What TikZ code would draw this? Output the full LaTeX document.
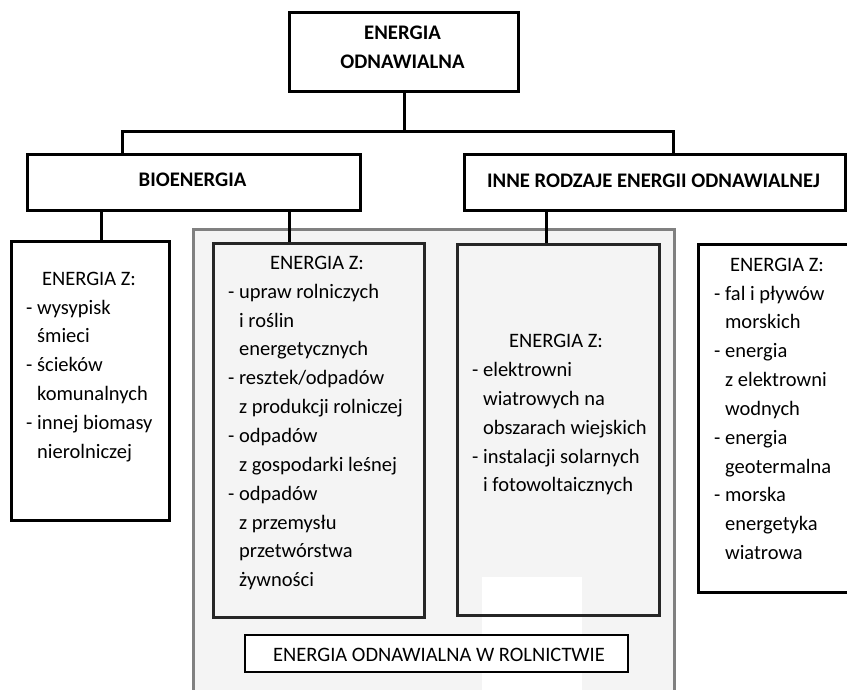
\documentclass[tikz,border=0pt]{standalone}
\usepackage{fontspec}
\setmainfont{Carlito}
\definecolor{frame}{HTML}{808080}
\definecolor{bg}{HTML}{F4F4F4}
\newcommand\mylist[1]{\parbox[t]{220pt}{\fontsize{20.5}{28.85}\selectfont #1}}
\newcommand\hind{\hphantom{- }}
\tikzset{
  bx/.style={draw=black, line width=3pt, fill=white, inner sep=0pt, anchor=north west},
  ibx/.style={draw=black!85, line width=2.6pt, inner sep=0pt, anchor=north west},
  lblbox/.style={draw=black, line width=1.8pt, fill=white, inner sep=0pt, anchor=north west},
  agribox/.style={draw=frame, fill=bg, line width=3pt, inner sep=0pt, anchor=north west},
  conn/.style={line width=3pt, draw=black},
  ttl/.style={inner sep=0pt, anchor=base, font=\fontsize{20.5}{29}\selectfont},
  hdr/.style={inner sep=0pt, anchor=base, font=\fontsize{20.7}{29}\selectfont\bfseries},
  lst/.style={inner sep=0pt, anchor=base west},
}
\begin{document}
\begin{tikzpicture}[x=1pt,y=-1pt]
\useasboundingbox (0,0) rectangle (847,689);
\clip (0,0) rectangle (847,689);
\fill[white] (0,0) rectangle (847,689);
% agriculture frame
\node[agribox, minimum width=481pt, minimum height=480pt] (agri) at (192,228) {};
\fill[white] (482,577) rectangle (582,700);
% boxes
\node[bx, minimum width=229pt, minimum height=79pt] (top) at (288,11) {};
\node[bx, minimum width=333pt, minimum height=56pt] (bio) at (26,153) {};
\node[bx, minimum width=381pt, minimum height=56pt] (inne) at (463,153) {};
\node[bx, minimum width=158pt, minimum height=279pt] (lbox) at (10,240) {};
\node[ibx, minimum width=211pt, minimum height=374pt] (m1) at (212,242) {};
\node[ibx, minimum width=202pt, minimum height=371pt] (m2) at (456,243) {};
\node[bx, minimum width=170pt, minimum height=348pt] (rbox) at (697,243) {};
\node[lblbox, minimum width=383pt, minimum height=37pt] (lab) at (244,634) {};
% header texts
\node[inner sep=0pt, anchor=base] (ttop) at (402.5,39)
  {\parbox[t]{200pt}{\centering\bfseries\fontsize{20.7}{29}\selectfont ENERGIA\\ODNAWIALNA}};
\node[hdr] (tbio) at (192.5,186) {BIOENERGIA};
\node[hdr] (tinne) at (653.5,187) {INNE RODZAJE ENERGII ODNAWIALNEJ};
% titles
\node[ttl] (tl) at (89,285) {ENERGIA Z:};
\node[ttl] (tm1) at (317,269.3) {ENERGIA Z:};
\node[ttl] (tm2) at (556,347.7) {ENERGIA Z:};
\node[ttl] (tr) at (777,271) {ENERGIA Z:};
\node[ttl] (tlab) at (439,661) {ENERGIA ODNAWIALNA W ROLNICTWIE};
% lists
\node[lst] (ll) at (26,314) {\mylist{- wysypisk\\ \hind śmieci\\ - ścieków\\ \hind komunalnych\\ - innej biomasy\\ \hind nierolniczej}};
\node[lst] (lm1) at (228,298.2) {\mylist{- upraw rolniczych\\ \hind i roślin\\ \hind energetycznych\\ - resztek/odpadów\\ \hind z produkcji rolniczej\\ - odpadów\\ \hind z gospodarki leśnej\\ - odpadów\\ \hind z przemysłu\\ \hind przetwórstwa\\ \hind żywności}};
\node[lst] (lm2) at (472,376.5) {\mylist{- elektrowni\\ \hind wiatrowych na\\ \hind obszarach wiejskich\\ - instalacji solarnych\\ \hind i fotowoltaicznych}};
\node[lst] (lr) at (714,300) {\mylist{- fal i pływów\\ \hind morskich\\ - energia\\ \hind z elektrowni\\ \hind wodnych\\ - energia\\ \hind geotermalna\\ - morska\\ \hind energetyka\\ \hind wiatrowa}};
% connectors
\coordinate (j) at (404,131);
\coordinate (jl) at (122,131);
\coordinate (jr) at (673,131);
\coordinate (d1) at (101,220);
\coordinate (d2) at (289,220);
\coordinate (d3) at (546,220);
\draw[conn] (j |- top.south) -- (j);
\draw[conn] (jl |- bio.north) -- (jl) -- (jr) -- (jr |- inne.north);
\draw[conn] (d1 |- bio.south) -- (d1 |- lbox.north);
\draw[conn] (d2 |- bio.south) -- (d2 |- m1.north);
\draw[conn] (d3 |- inne.south) -- (d3 |- m2.north);
\end{tikzpicture}
\end{document}
